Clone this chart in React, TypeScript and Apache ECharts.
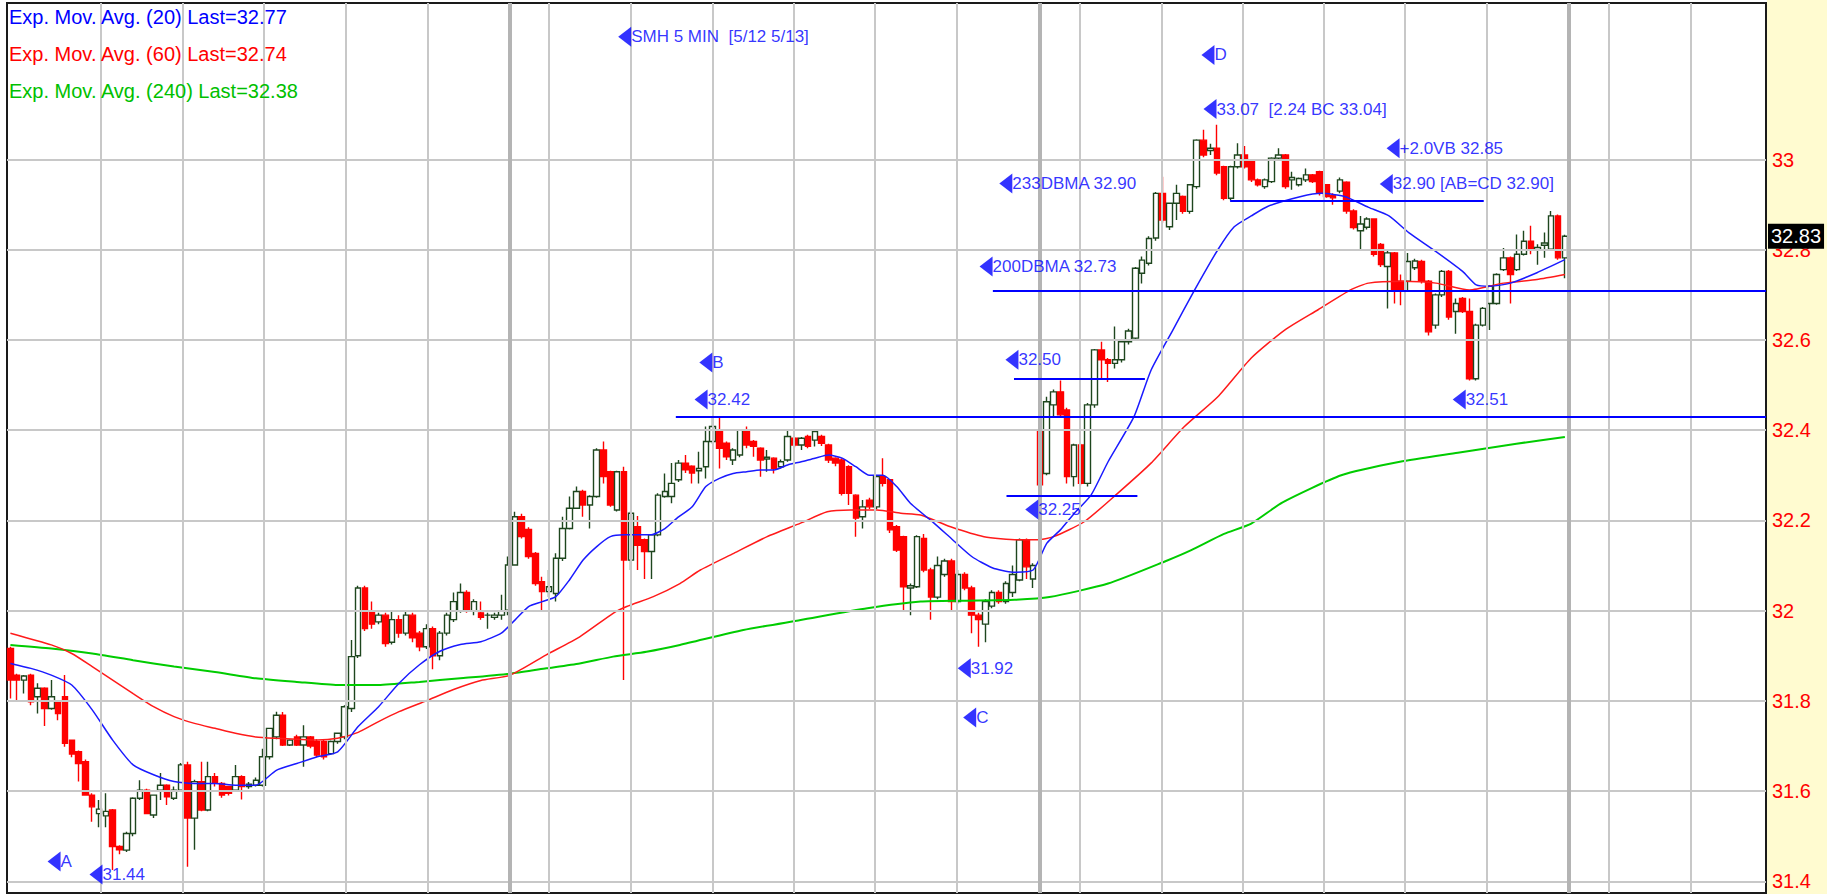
import React, { useEffect, useRef } from "react";
import * as echarts from "echarts";

const W = 1827;
const H = 894;
const SLOTS = 258;
const Y_MIN = 31.374;
const Y_MAX = 33.347;
const FONT = '"Liberation Sans", Arial, sans-serif';

// [open, close, low, high]
const day1 = [
  [31.916, 31.846, 31.805, 31.92], [31.857, 31.846, 31.8, 31.86], [31.846, 31.855, 31.816, 31.857], [31.857, 31.798, 31.79, 31.86],
  [31.809, 31.828, 31.772, 31.839], [31.828, 31.783, 31.744, 31.83], [31.783, 31.809, 31.78, 31.846], [31.8, 31.772, 31.757, 31.8],
  [31.809, 31.706, 31.698, 31.857], [31.713, 31.682, 31.675, 31.713], [31.687, 31.661, 31.621, 31.69], [31.665, 31.591, 31.59, 31.67],
  [31.591, 31.565, 31.532, 31.595], [31.55, 31.56, 31.52, 31.58], [31.545, 31.555, 31.52, 31.595], [31.558, 31.477, 31.425, 31.56],
  [31.477, 31.47, 31.46, 31.48], [31.469, 31.506, 31.465, 31.51], [31.506, 31.584, 31.5, 31.586], [31.584, 31.602, 31.58, 31.624],
  [31.602, 31.55, 31.55, 31.605], [31.547, 31.591, 31.54, 31.592], [31.602, 31.613, 31.58, 31.64], [31.613, 31.587, 31.569, 31.615],
  [31.584, 31.602, 31.58, 31.61], [31.602, 31.658, 31.6, 31.662], [31.658, 31.54, 31.432, 31.665], [31.54, 31.621, 31.47, 31.625],
  [31.621, 31.558, 31.555, 31.665], [31.558, 31.632, 31.555, 31.665], [31.632, 31.617, 31.61, 31.64], [31.617, 31.591, 31.585, 31.62],
  [31.61, 31.595, 31.59, 31.612], [31.602, 31.632, 31.6, 31.658], [31.632, 31.61, 31.581, 31.635], [31.61, 31.615, 31.605, 31.62],
  [31.613, 31.624, 31.61, 31.63], [31.613, 31.676, 31.61, 31.694], [31.676, 31.739, 31.67, 31.74], [31.72, 31.768, 31.715, 31.776],
  [31.768, 31.702, 31.7, 31.775], [31.702, 31.713, 31.7, 31.715], [31.72, 31.702, 31.7, 31.725], [31.702, 31.72, 31.654, 31.746],
  [31.72, 31.7, 31.695, 31.722], [31.71, 31.68, 31.675, 31.715], [31.71, 31.676, 31.67, 31.715], [31.683, 31.71, 31.68, 31.712],
  [31.71, 31.728, 31.705, 31.73], [31.72, 31.787, 31.715, 31.79], [31.783, 31.898, 31.775, 31.935], [31.9, 32.05, 31.895, 32.055],
  [32.05, 31.96, 31.955, 32.055], [32.0, 31.97, 31.96, 32.02], [31.975, 31.99, 31.97, 31.995], [31.99, 31.927, 31.92, 31.995],
  [31.93, 31.98, 31.925, 32.0], [31.98, 31.95, 31.94, 31.99], [31.95, 31.99, 31.945, 32.0], [31.99, 31.94, 31.93, 31.995],
  [31.95, 31.92, 31.91, 31.955], [31.92, 31.96, 31.915, 31.97], [31.96, 31.9, 31.87, 31.965], [31.9, 31.95, 31.89, 31.955],
  [31.95, 31.99, 31.945, 31.995], [31.98, 32.02, 31.975, 32.04], [32.0, 32.04, 31.995, 32.06], [32.04, 32.0, 31.995, 32.045],
  [32.0, 32.02, 31.99, 32.025], [31.995, 31.985, 31.98, 32.02], [31.99, 31.99, 31.96, 31.995], [31.985, 31.99, 31.98, 31.995],
  [31.99, 32.0, 31.98, 32.035],
];

const day2 = [
  [32.001, 32.101, 31.99, 32.12], [32.101, 32.208, 32.1, 32.219], [32.208, 32.164, 32.16, 32.215], [32.18, 32.12, 32.115, 32.185],
  [32.127, 32.06, 32.055, 32.13], [32.064, 32.042, 32.0, 32.075], [32.042, 32.053, 32.03, 32.09], [32.038, 32.116, 32.02, 32.127],
  [32.116, 32.182, 32.11, 32.208], [32.182, 32.227, 32.18, 32.253], [32.227, 32.264, 32.225, 32.275], [32.264, 32.234, 32.208, 32.268],
  [32.234, 32.253, 32.182, 32.256], [32.253, 32.356, 32.25, 32.36], [32.356, 32.297, 32.282, 32.375], [32.308, 32.234, 32.23, 32.31],
  [32.223, 32.308, 32.22, 32.31], [32.308, 32.112, 31.846, 32.319], [32.112, 32.216, 32.09, 32.22], [32.186, 32.145, 32.09, 32.21],
  [32.157, 32.131, 32.07, 32.16], [32.131, 32.168, 32.07, 32.17], [32.168, 32.256, 32.165, 32.26], [32.253, 32.264, 32.25, 32.304],
  [32.253, 32.282, 32.238, 32.327], [32.29, 32.327, 32.285, 32.334], [32.327, 32.312, 32.305, 32.345], [32.32, 32.305, 32.282, 32.322],
  [32.31, 32.315, 32.282, 32.352], [32.319, 32.375, 32.293, 32.408], [32.375, 32.408, 32.37, 32.43], [32.4, 32.36, 32.315, 32.43],
  [32.371, 32.341, 32.334, 32.375], [32.334, 32.356, 32.323, 32.36], [32.345, 32.4, 32.34, 32.402], [32.4, 32.367, 32.36, 32.408],
  [32.375, 32.364, 32.341, 32.378], [32.36, 32.334, 32.297, 32.362], [32.336, 32.34, 32.308, 32.356], [32.338, 32.315, 32.304, 32.34],
  [32.319, 32.33, 32.315, 32.335], [32.334, 32.386, 32.33, 32.4], [32.382, 32.367, 32.362, 32.385], [32.367, 32.382, 32.356, 32.385],
  [32.386, 32.364, 32.36, 32.39], [32.378, 32.397, 32.364, 32.4], [32.386, 32.371, 32.365, 32.39], [32.367, 32.334, 32.327, 32.37],
  [32.338, 32.327, 32.32, 32.34], [32.334, 32.26, 32.255, 32.338], [32.319, 32.26, 32.234, 32.322], [32.256, 32.205, 32.164, 32.258],
  [32.208, 32.23, 32.182, 32.245], [32.245, 32.23, 32.225, 32.25], [32.23, 32.297, 32.225, 32.3], [32.297, 32.282, 32.275, 32.338],
  [32.29, 32.179, 32.172, 32.292], [32.186, 32.134, 32.13, 32.19], [32.164, 32.053, 32.0, 32.166], [32.05, 32.055, 31.99, 32.06],
  [32.053, 32.164, 32.05, 32.167], [32.16, 32.09, 32.085, 32.17], [32.09, 32.03, 31.98, 32.095], [32.03, 32.1, 32.025, 32.12],
  [32.08, 32.11, 32.075, 32.115], [32.11, 32.02, 32.0, 32.115], [32.02, 32.08, 32.015, 32.09], [32.08, 32.05, 32.045, 32.085],
  [32.05, 31.99, 31.95, 32.055], [31.99, 31.98, 31.92, 31.995], [31.97, 32.02, 31.93, 32.025], [32.01, 32.04, 32.005, 32.045],
  [32.04, 32.02, 32.015, 32.045], [32.02, 32.06, 32.015, 32.065], [32.04, 32.08, 32.03, 32.1], [32.068, 32.157, 32.065, 32.16],
  [32.157, 32.097, 32.07, 32.16], [32.07, 32.1, 32.05, 32.105],
];

const day3 = [
  [32.4, 32.279, 32.256, 32.41], [32.304, 32.463, 32.3, 32.474], [32.456, 32.485, 32.43, 32.49], [32.485, 32.434, 32.43, 32.51],
  [32.445, 32.297, 32.282, 32.45], [32.297, 32.367, 32.275, 32.37], [32.367, 32.282, 32.278, 32.37], [32.282, 32.456, 32.275, 32.46],
  [32.456, 32.578, 32.45, 32.58], [32.578, 32.556, 32.511, 32.596], [32.556, 32.548, 32.507, 32.56], [32.548, 32.556, 32.537, 32.63],
  [32.556, 32.596, 32.55, 32.6], [32.596, 32.62, 32.59, 32.625], [32.604, 32.759, 32.6, 32.762], [32.748, 32.777, 32.725, 32.785],
  [32.77, 32.825, 32.765, 32.83], [32.826, 32.925, 32.82, 32.928], [32.925, 32.866, 32.86, 32.962], [32.851, 32.903, 32.844, 32.905],
  [32.903, 32.925, 32.866, 32.944], [32.918, 32.885, 32.88, 32.92], [32.885, 32.944, 32.88, 32.946], [32.94, 33.043, 32.935, 33.045],
  [33.043, 33.01, 33.005, 33.066], [33.02, 33.025, 33.01, 33.035], [33.025, 32.97, 32.965, 33.077], [32.984, 32.914, 32.91, 32.986],
  [32.914, 32.984, 32.91, 32.986], [32.984, 33.01, 32.98, 33.036], [33.01, 32.984, 32.98, 33.03], [32.999, 32.955, 32.95, 33.0],
  [32.955, 32.944, 32.94, 32.958], [32.94, 32.955, 32.935, 32.958], [32.951, 33.003, 32.948, 33.005], [33.003, 33.01, 33.0, 33.025],
  [33.01, 32.94, 32.935, 33.012], [32.955, 32.96, 32.933, 32.973], [32.944, 32.958, 32.94, 32.96], [32.955, 32.966, 32.95, 32.98],
  [32.966, 32.951, 32.948, 32.968], [32.973, 32.925, 32.92, 32.975], [32.944, 32.918, 32.915, 32.946], [32.92, 32.915, 32.9, 32.925],
  [32.93, 32.955, 32.925, 32.96], [32.95, 32.886, 32.88, 32.952], [32.886, 32.849, 32.845, 32.89], [32.842, 32.857, 32.8, 32.875],
  [32.85, 32.868, 32.845, 32.872], [32.868, 32.79, 32.785, 32.87], [32.812, 32.767, 32.762, 32.815], [32.763, 32.793, 32.67, 32.8],
  [32.793, 32.711, 32.681, 32.795], [32.73, 32.711, 32.677, 32.745], [32.73, 32.774, 32.707, 32.793], [32.76, 32.775, 32.755, 32.78],
  [32.774, 32.73, 32.725, 32.778], [32.73, 32.618, 32.61, 32.733], [32.633, 32.7, 32.625, 32.703], [32.7, 32.752, 32.695, 32.755],
  [32.752, 32.651, 32.645, 32.755], [32.663, 32.681, 32.614, 32.692], [32.692, 32.663, 32.66, 32.695], [32.663, 32.514, 32.51, 32.692],
  [32.514, 32.633, 32.51, 32.636], [32.633, 32.67, 32.63, 32.673], [32.681, 32.719, 32.622, 32.722], [32.681, 32.745, 32.678, 32.748],
  [32.756, 32.782, 32.753, 32.804], [32.782, 32.745, 32.681, 32.785], [32.756, 32.79, 32.753, 32.834], [32.79, 32.819, 32.787, 32.842],
  [32.819, 32.8, 32.79, 32.853], [32.8, 32.805, 32.767, 32.812], [32.81, 32.815, 32.782, 32.838], [32.801, 32.875, 32.798, 32.886],
  [32.875, 32.782, 32.778, 32.878], [32.782, 32.83, 32.737, 32.833],
];

// [bar position, value]
const ema20 = [
  [0, 31.883], [3, 31.872], [6, 31.857], [9, 31.835], [12, 31.78], [15, 31.713], [18, 31.658], [21, 31.636], [24, 31.621],
  [27, 31.617], [30, 31.617], [33, 31.613], [36, 31.613], [39, 31.646], [42, 31.661], [45, 31.676], [48, 31.687], [51, 31.743],
  [54, 31.787], [57, 31.839], [60, 31.88], [63, 31.91], [66, 31.925], [69, 31.931], [72, 31.95], [74, 31.979], [76, 32.009],
  [78, 32.02], [80, 32.031], [82, 32.068], [84, 32.112], [86, 32.142], [88, 32.164], [90, 32.168], [92, 32.168], [94, 32.168],
  [96, 32.182], [98, 32.208], [100, 32.23], [102, 32.275], [104, 32.293], [106, 32.304], [108, 32.308], [110, 32.312],
  [112, 32.312], [114, 32.323], [116, 32.33], [118, 32.338], [120, 32.345], [122, 32.338], [124, 32.319], [126, 32.3],
  [128, 32.3], [130, 32.275], [132, 32.238], [135, 32.2], [138, 32.16], [141, 32.12], [144, 32.095], [147, 32.085],
  [150, 32.09], [152, 32.149], [154, 32.179], [156, 32.215], [158.5, 32.256], [161, 32.33], [164.8, 32.43], [167.3, 32.533],
  [170.5, 32.622], [173.7, 32.711], [177.1, 32.8], [179.5, 32.851], [182, 32.875], [184.4, 32.896], [189.3, 32.918],
  [192.3, 32.925], [195.7, 32.918], [199.2, 32.894], [202.2, 32.875], [205.1, 32.838], [209, 32.797], [213, 32.752],
  [215, 32.722], [217, 32.719], [220, 32.726], [223.9, 32.749], [228, 32.778],
];

const ema60 = [
  [0, 31.95], [6, 31.924], [9, 31.905], [12, 31.876], [15, 31.846], [18, 31.816], [21, 31.787], [24, 31.765], [27, 31.75],
  [30, 31.739], [33, 31.728], [36, 31.72], [39, 31.717], [42, 31.715], [45, 31.713], [48, 31.717], [51, 31.73], [54, 31.754],
  [57, 31.776], [61, 31.8], [65, 31.825], [69, 31.845], [73.3, 31.857], [78.6, 31.902], [83.5, 31.942], [88.4, 31.994],
  [90.4, 32.009], [94.3, 32.031], [98.2, 32.06], [101.2, 32.09], [106.1, 32.127], [111, 32.164], [115.9, 32.194],
  [119.8, 32.219], [123.2, 32.223], [127.1, 32.223], [130.6, 32.216], [133.5, 32.212], [137.9, 32.186], [142.8, 32.164],
  [147.7, 32.157], [150.6, 32.157], [153, 32.164], [157.5, 32.197], [162.4, 32.26], [167.3, 32.327], [172.2, 32.408],
  [177.1, 32.474], [182, 32.56], [186.9, 32.622], [191.8, 32.667], [196.7, 32.712], [199.2, 32.726], [204.1, 32.73],
  [209.1, 32.726], [214, 32.711], [219, 32.726], [223.9, 32.734], [228, 32.745],
];

const ema240 = [
  [0, 31.924], [6, 31.916], [12, 31.905], [18, 31.89], [24, 31.876], [30, 31.864], [36, 31.85], [42, 31.842], [48, 31.835],
  [54, 31.835], [60, 31.842], [66, 31.85], [73.7, 31.861], [78.6, 31.872], [83.5, 31.883], [88.4, 31.898], [93.3, 31.909],
  [98.2, 31.924], [107.5, 31.957], [115.9, 31.979], [125.7, 32.005], [133.5, 32.02], [140, 32.022], [147.3, 32.024],
  [152.4, 32.03], [161, 32.06], [169.5, 32.11], [173.2, 32.134], [178, 32.17], [182, 32.193], [186.6, 32.24], [195.2, 32.3],
  [203.8, 32.33], [212.3, 32.35], [220.9, 32.37], [228, 32.385],
];

const yTicks = [31.4, 31.6, 31.8, 32, 32.2, 32.4, 32.6, 32.8, 33];
const hourLines = [13.3, 25.3, 37.2, 49.2, 61.25, 79, 91, 103, 114.9, 126.8, 138.8, 156.9, 168.8, 180.8, 192.7, 204.5, 216.5, 234.4, 246.4];
const dayLines = [73.2, 151, 228.6];

// level lines: [price, fromBar, toBar]
const levels = [
  [32.43, 97.6, 257.5],
  [32.708, 144.1, 257.5],
  [32.908, 178.9, 216.1],
  [32.513, 147.2, 166.4],
  [32.255, 146.1, 165.3],
];

// annotations: [bar position, price, text]
const annotations: [number, number, string][] = [
  [90.1, 33.272, "SMH 5 MIN  [5/12 5/13]"],
  [175.65, 33.232, "D"],
  [175.95, 33.112, "33.07  [2.24 BC 33.04]"],
  [202.8, 33.025, "+2.0VB 32.85"],
  [201.8, 32.946, "32.90 [AB=CD 32.90]"],
  [146.0, 32.947, "233DBMA 32.90"],
  [143.1, 32.763, "200DBMA 32.73"],
  [146.9, 32.556, "32.50"],
  [102.0, 32.55, "B"],
  [101.3, 32.468, "32.42"],
  [149.8, 32.224, "32.25"],
  [212.5, 32.468, "32.51"],
  [139.9, 31.872, "31.92"],
  [140.7, 31.763, "C"],
  [6.4, 31.444, "A"],
  [12.55, 31.415, "31.44"],
];

const legendTexts = ["Exp. Mov. Avg. (20) Last=32.77", "Exp. Mov. Avg. (60) Last=32.74", "Exp. Mov. Avg. (240) Last=32.38"];
const legendColors = ["#0000ff", "#ff0000", "#00c000"];
const lastPrice = 32.83;

export default function App() {
  const ref = useRef<HTMLDivElement>(null);

  useEffect(() => {
    if (!ref.current) return;
    const chart = echarts.init(ref.current, undefined, { renderer: "svg" });
    const candles = [...day1, ...day2, ...day3];
    const cats = Array.from({ length: SLOTS }, (_, i) => String(i));

    const gridMarks: any[] = [];
    yTicks.forEach((v) => {
      gridMarks.push({
        yAxis: v,
        lineStyle: { color: "#c8c8c8", width: 2, type: "solid" },
        label: {
          show: true,
          position: "end",
          distance: 6,
          formatter: String(v),
          color: "#ff0000",
          fontSize: 20,
          fontFamily: FONT,
        },
      });
    });
    hourLines.forEach((x) => {
      gridMarks.push({ xAxis: x, lineStyle: { color: "#c8c8c8", width: 2, type: "solid" }, label: { show: false } });
    });
    dayLines.forEach((x) => {
      gridMarks.push({ xAxis: x, lineStyle: { color: "#b4b4b4", width: 4, type: "solid" }, label: { show: false } });
    });
    // last price box drawn last so that it sits above the 32.8 label
    gridMarks.push({
      yAxis: lastPrice,
      lineStyle: { color: "rgba(0,0,0,0)", width: 1, type: "solid" },
      label: {
        show: true,
        position: "end",
        distance: 2,
        formatter: lastPrice.toFixed(2),
        color: "#ffffff",
        backgroundColor: "#000000",
        padding: [3, 3, 2, 3],
        fontSize: 20,
        fontFamily: FONT,
      },
    });

    const levelMarks = levels.map((l) => [
      { coord: [l[1], l[0]] },
      { coord: [l[2], l[0]] },
    ]);

    const option: any = {
      animation: false,
      backgroundColor: "#ffffff",
      grid: {
        left: 7,
        right: 61,
        top: 3,
        bottom: 1,
        show: true,
        borderColor: "#1a1a1a",
        borderWidth: 2,
        backgroundColor: "transparent",
      },
      xAxis: [
        { type: "category", data: cats, boundaryGap: true, show: false },
        { type: "value", min: -0.5, max: SLOTS - 0.5, show: false },
      ],
      yAxis: [{ type: "value", min: Y_MIN, max: Y_MAX, show: false, splitLine: { show: false } }],
      graphic: [
        { type: "rect", right: 0, top: 0, shape: { width: 60, height: H }, style: { fill: "#fffbd0" }, z: -10, silent: true },
        ...legendTexts.map((t, i) => ({
          type: "text",
          left: 9,
          top: 7 + i * 37,
          z: 100,
          style: { text: t, fill: legendColors[i], font: `20px ${FONT}` },
        })),
      ],
      series: [
        {
          name: "grid",
          type: "line",
          xAxisIndex: 1,
          yAxisIndex: 0,
          data: [[-0.5, Y_MIN]],
          showSymbol: false,
          lineStyle: { opacity: 0 },
          silent: true,
          z: 1,
          markLine: { silent: true, symbol: ["none", "none"], animation: false, data: gridMarks },
        },
        {
          name: "SMH",
          type: "candlestick",
          xAxisIndex: 0,
          yAxisIndex: 0,
          data: candles,
          barWidth: 6,
          z: 3,
          itemStyle: {
            color: "#ffffff",
            color0: "#ff0000",
            borderColor: "#1e461e",
            borderColor0: "#ff0000",
            borderWidth: 1.4,
          },
        },
        {
          name: "EMA240",
          type: "line",
          xAxisIndex: 1,
          data: ema240,
          showSymbol: false,
          smooth: 0.2,
          lineStyle: { color: "#00cc00", width: 2 },
          z: 4,
          silent: true,
        },
        {
          name: "EMA60",
          type: "line",
          xAxisIndex: 1,
          data: ema60,
          showSymbol: false,
          smooth: 0.2,
          lineStyle: { color: "#ff1a1a", width: 1.5 },
          z: 4,
          silent: true,
        },
        {
          name: "EMA20",
          type: "line",
          xAxisIndex: 1,
          data: ema20,
          showSymbol: false,
          smooth: 0.2,
          lineStyle: { color: "#1a1aff", width: 1.5 },
          z: 4,
          silent: true,
          markLine: {
            silent: true,
            symbol: ["none", "none"],
            animation: false,
            lineStyle: { color: "#0000ff", width: 2, type: "solid" },
            label: { show: false },
            data: levelMarks,
          },
        },
        {
          name: "notes",
          type: "scatter",
          xAxisIndex: 1,
          data: annotations.map((a) => ({ value: [a[0], a[1]], name: a[2] })),
          symbol: "triangle",
          symbolRotate: 90,
          symbolSize: [20, 13],
          itemStyle: { color: "#0000ff" },
          z: 6,
          silent: true,
          label: {
            show: true,
            position: "right",
            distance: 0,
            formatter: "{b}",
            color: "#0000ff",
            fontSize: 17,
            fontFamily: FONT,
          },
        },
      ],
    };
    chart.setOption(option);
    return () => chart.dispose();
  }, []);

  return <div ref={ref} style={{ position: "absolute", left: 0, top: 0, width: W, height: H }} />;
}
